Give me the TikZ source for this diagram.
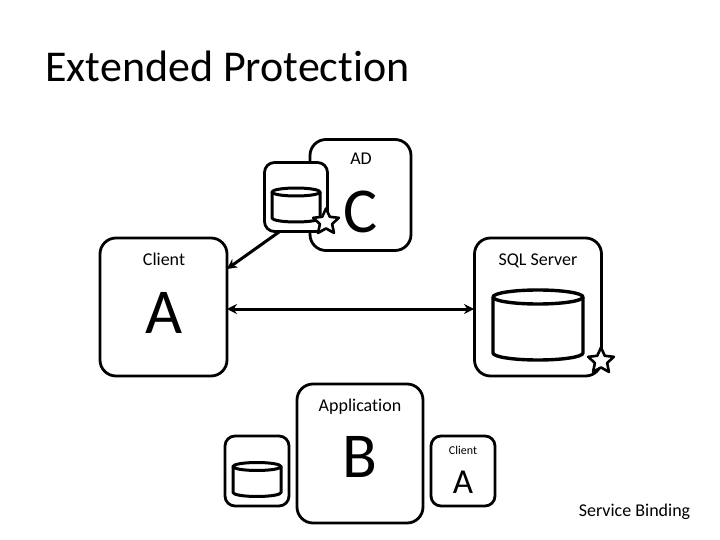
\documentclass[tikz,border=0pt]{standalone}
\usepackage{fontspec}
\setmainfont{Carlito}[Ligatures=NoCommon]
\usetikzlibrary{shapes.geometric,arrows.meta}
\tikzset{
	hostbox/.style={draw,fill=white,line width=2.8pt,rounded corners=16pt,inner sep=0pt},
	keystar/.style={draw,fill=white,line width=2.6pt,star,star points=5,star point ratio=2.1,minimum size=27pt,inner sep=0pt},
	small/.style={anchor=base,inner sep=0pt,font=\fontsize{18}{20}\selectfont},
	big/.style={anchor=base,inner sep=0pt,font=\fontsize{64}{66}\selectfont},
	link/.style={line width=3pt,-{Stealth[length=10pt,width=10pt]}},
	bothlink/.style={line width=3pt,{Stealth[length=10pt,width=10pt]}-{Stealth[length=10pt,width=10pt]}},
	pics/dbdisk/.style n args={4}{code={
		\draw[fill=white,line width=#4] (-#1,-#2)--(-#1,#2) arc[start angle=180,end angle=0,x radius=#1,y radius=#3]--(#1,-#2);
		\draw[fill=white,line width=#4] (0,-#2) ellipse ({#1} and {#3});
	}}
}
\begin{document}
\begin{tikzpicture}[x=1pt,y=-1pt,line join=round]
	\useasboundingbox (0,0) rectangle (720,540);
	\node[anchor=base west,font=\fontsize{44}{48}\selectfont,inner sep=0pt] (title) at (45,82) {Extended Protection};
	% AD with its store in front
	\node[hostbox,minimum width=101pt,minimum height=111pt] (ad) at (360.5,195) {};
	\node[hostbox,minimum width=63pt,minimum height=69pt,rounded corners=10pt] (adstore) at (296,197) {};
	\pic at (296,205) {dbdisk={24}{13}{4}{3pt}};
	\node[keystar] (adstar) at (326,222) {};
	\node[small] (adlabel) at (361,165) {AD};
	\node[big] (c) at (361,233) {C};
	% client and SQL server
	\node[hostbox,minimum width=127pt,minimum height=138pt] (client) at (163.5,307) {};
	\node[small] (clientlabel) at (164,265) {Client};
	\node[big] (a) at (164,333) {A};
	\node[hostbox,minimum width=127pt,minimum height=138pt] (sql) at (538,307) {};
	\node[small] (sqllabel) at (538,265) {SQL Server};
	\pic at (538,325) {dbdisk={45}{28}{7}{3.4pt}};
	\node[keystar] (sqlstar) at (601,361) {};
	\coordinate (fromstore) at (279,232);
	\coordinate (toclient) at (227,269);
	\coordinate (clientside) at (227,309);
	\coordinate (sqlside) at (474,309);
	\draw[link] (fromstore)--(toclient);
	\draw[bothlink] (clientside)--(sqlside);
	% application row
	\node[hostbox,minimum width=126pt,minimum height=139pt] (app) at (360,453.5) {};
	\node[small] (applabel) at (360,411) {Application};
	\node[big] (b) at (360,477) {B};
	\node[hostbox,minimum width=64pt,minimum height=70pt,rounded corners=10pt] (appstore) at (257,471) {};
	\pic at (257,479.5) {dbdisk={24}{13}{4}{3pt}};
	\node[hostbox,minimum width=64pt,minimum height=70pt,rounded corners=10pt] (appclient) at (463,471) {};
	\node[anchor=base,inner sep=0pt,font=\fontsize{12}{14}\selectfont] (appclientlabel) at (463,454) {Client};
	\node[anchor=base,inner sep=0pt,font=\fontsize{35}{38}\selectfont] (aa) at (463,493) {A};
	\node[small] (binding) at (634.5,516) {Service Binding};
\end{tikzpicture}
\end{document}
